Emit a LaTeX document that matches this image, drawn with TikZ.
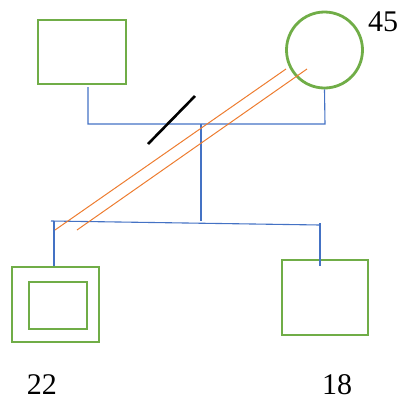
\documentclass[tikz,border=0pt]{standalone}
\usepackage{fontspec}
\setmainfont{Liberation Serif}
\begin{document}
\begin{tikzpicture}[x=1pt,y=-1pt]
\definecolor{pgreen}{HTML}{70AD47}
\definecolor{blueline}{HTML}{4472C4}
\definecolor{orangeline}{HTML}{ED7D31}
\tikzset{
  person/.style={draw=pgreen, line width=2.8pt, inner sep=0pt},
  link/.style={draw=blueline, line width=1.1pt},
  rel/.style={draw=orangeline, line width=1pt},
  age/.style={font=\fontsize{30}{30}\selectfont, inner sep=0pt}}
\useasboundingbox (0,0) rectangle (399,400);
% persons
\node[person, rectangle, minimum width=88pt, minimum height=64pt] (father) at (82,52) {};
\node[person, circle, minimum size=76pt] (mother) at (324.5,50) {};
\node[person, rectangle, minimum width=87pt, minimum height=75pt] (son) at (55.5,304.5) {};
\node[person, rectangle, minimum width=58pt, minimum height=47pt] (soninner) at (58,305.5) {};
\node[person, rectangle, minimum width=86pt, minimum height=75pt] (daughter) at (325,297.5) {};
% labels
\node[age] (a45) at (383,22) {45};
\node[age] (a22) at (42,385) {22};
\node[age] (a18) at (337,385) {18};
% marriage line
\coordinate (fl) at (88,87);
\coordinate (fc) at (88,124);
\coordinate (mc) at (325,124);
\coordinate (mid) at (201,124);
\coordinate (midb) at (201,221);
\draw[link] (fl) -- (fc) -- (mc) -- (mother.south);
\draw[link] (mid) -- (midb);
% sibling line
\coordinate (sl) at (51,221);
\coordinate (sr) at (320,225);
\coordinate (slb) at (54,221);
\coordinate (srt) at (320,223);
\coordinate (srb) at (320,266);
\draw[link] (sl) -- (sr);
\draw[link] (slb) -- (son.north -| slb);
\draw[link] (srt) -- (srb);
% divorce slash
\coordinate (d1) at (148,144);
\coordinate (d2) at (195,96);
\draw[line width=2.6pt, black] (d1) -- (d2);
% relationship lines
\coordinate (o1a) at (286,69);
\coordinate (o1b) at (55,230);
\coordinate (o2a) at (307,69);
\coordinate (o2b) at (77,230);
\draw[rel] (o1a) -- (o1b);
\draw[rel] (o2a) -- (o2b);
\end{tikzpicture}
\end{document}
